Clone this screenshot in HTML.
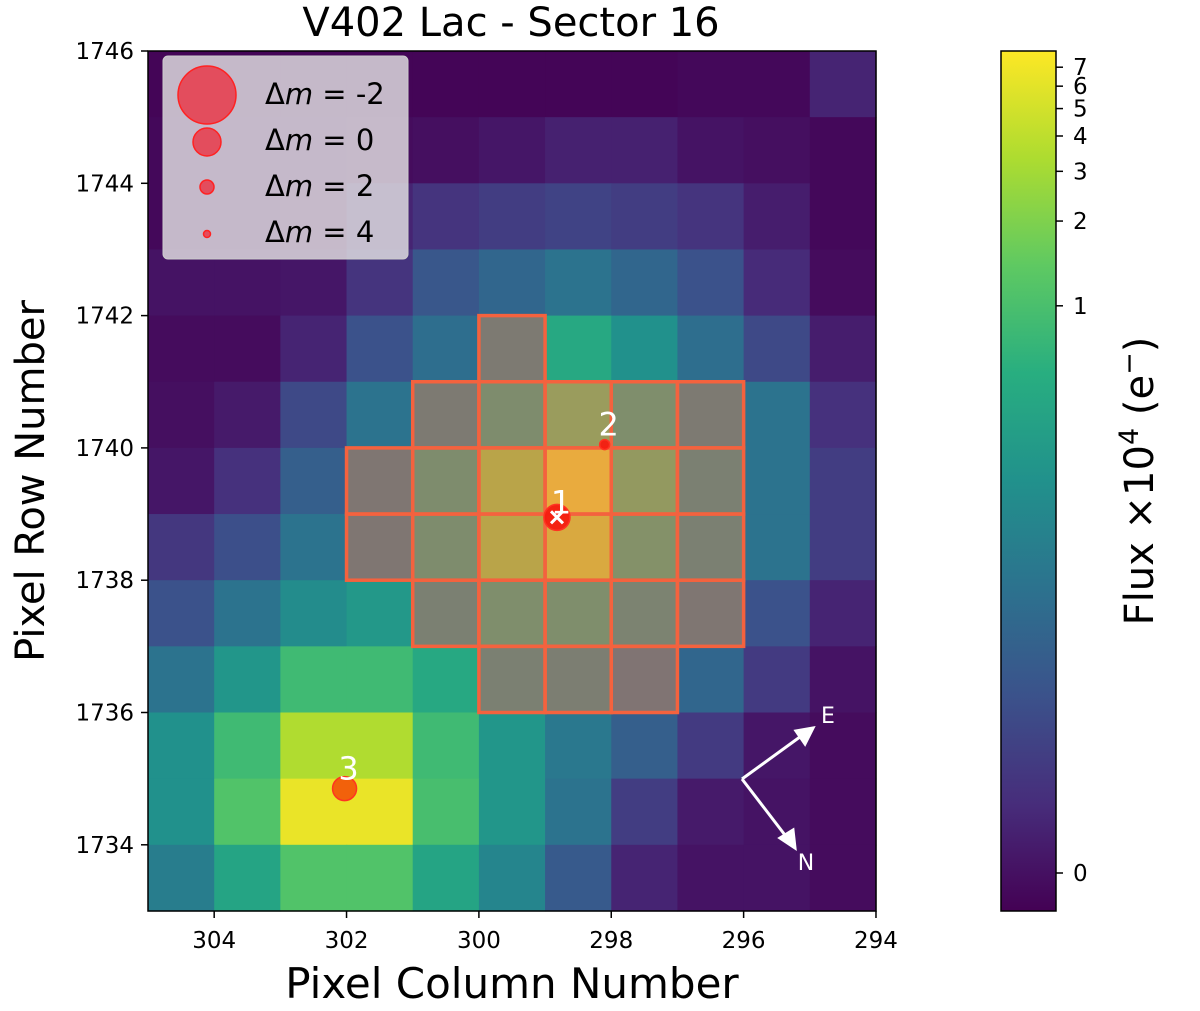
<!DOCTYPE html>
<html><head><meta charset="utf-8"><style>
html,body{margin:0;padding:0;background:#fff;}
svg{display:block;font-family:"DejaVu Sans","Liberation Sans",sans-serif;}
</style></head><body>
<svg id="chart" width="1200" height="1011" viewBox="0 0 1200 1011" xmlns="http://www.w3.org/2000/svg">
<text x="511" y="36" font-size="40" text-anchor="middle">V402 Lac - Sector 16</text>
<g id="cells"></g>
<g id="aperture"></g>
<rect x="148" y="51" width="728" height="860" fill="none" stroke="#000" stroke-width="1.5"/>
<g id="axes"></g>
<text x="512" y="998" font-size="42" text-anchor="middle">Pixel Column Number</text>
<text transform="translate(44,481) rotate(-90)" font-size="40" text-anchor="middle">Pixel Row Number</text>
<g id="stars"></g>
<g stroke="#fff" stroke-width="3" fill="#fff">
<line x1="742" y1="779" x2="804" y2="734"/><polygon points="813,728 796,731 805,744"/>
<line x1="742" y1="779" x2="788" y2="839"/><polygon points="795,848 780,838 793,830" />
<text x="828" y="723" font-size="22" stroke="none" text-anchor="middle">E</text>
<text x="806" y="870" font-size="22" stroke="none" text-anchor="middle">N</text>
</g>
<g>
<rect x="163" y="56" width="245" height="203" rx="5" fill="#e6e6e6" fill-opacity="0.8" stroke="#ccc"/>
<circle cx="207" cy="95" r="29" fill="#e8394a" fill-opacity="0.85" stroke="#f22" stroke-width="1.5"/>
<circle cx="207" cy="142" r="14" fill="#e8394a" fill-opacity="0.85" stroke="#f22" stroke-width="1.5"/>
<circle cx="207" cy="187" r="7" fill="#e8394a" fill-opacity="0.85" stroke="#f22" stroke-width="1.5"/>
<circle cx="207" cy="234" r="3.5" fill="#e8394a" fill-opacity="0.85" stroke="#f22" stroke-width="1.5"/>
<g font-size="29"><text x="265" y="104"><tspan>Δ</tspan><tspan font-style="italic">m</tspan> =  -2</text>
<text x="265" y="150"><tspan>Δ</tspan><tspan font-style="italic">m</tspan> =  0</text>
<text x="265" y="196"><tspan>Δ</tspan><tspan font-style="italic">m</tspan> =  2</text>
<text x="265" y="242"><tspan>Δ</tspan><tspan font-style="italic">m</tspan> =  4</text></g>
</g>
<defs><linearGradient id="vir" x1="0" y1="1" x2="0" y2="0">
<stop offset="0" stop-color="#440154"/><stop offset="0.125" stop-color="#472d7b"/><stop offset="0.25" stop-color="#3b528b"/><stop offset="0.375" stop-color="#2c728e"/><stop offset="0.5" stop-color="#21918c"/><stop offset="0.625" stop-color="#28ae80"/><stop offset="0.75" stop-color="#5ec962"/><stop offset="0.875" stop-color="#addc30"/><stop offset="1" stop-color="#fde725"/></linearGradient></defs>
<rect x="1001" y="51" width="55" height="860" fill="url(#vir)" stroke="#000" stroke-width="1.5"/>
<g id="cbticks"></g>
<text transform="translate(1153,481) rotate(-90)" font-size="40" text-anchor="middle">Flux ×10<tspan font-size="27" dy="-15">4</tspan><tspan dy="15"> (e</tspan><tspan font-size="27" dy="-15">−</tspan><tspan dy="15">)</tspan></text>
</svg>
<script>
const NS="http://www.w3.org/2000/svg";
// data
const colStart=305; // left edge column (x axis reversed)
const rowTop=1746;
const values=[
[0.01,0.01,0.01,0.01,0.01,0.01,0.01,0.01,0.02,0.02,0.1],
[0.02,0.02,0.02,0.03,0.04,0.06,0.09,0.09,0.05,0.04,0.02],
[0.02,0.02,0.03,0.1,0.15,0.18,0.2,0.18,0.15,0.08,0.02],
[0.05,0.05,0.06,0.15,0.27,0.33,0.38,0.33,0.25,0.12,0.03],
[0.03,0.03,0.1,0.25,0.36,0.45,0.6,0.5,0.36,0.22,0.08],
[0.04,0.07,0.22,0.38,0.45,0.6,0.75,0.62,0.45,0.38,0.14],
[0.06,0.14,0.3,0.42,0.6,0.85,1.0,0.72,0.5,0.38,0.18],
[0.16,0.24,0.38,0.42,0.6,0.85,0.95,0.65,0.5,0.38,0.18],
[0.25,0.38,0.48,0.53,0.5,0.62,0.62,0.52,0.42,0.25,0.1],
[0.38,0.52,0.68,0.68,0.6,0.5,0.48,0.4,0.33,0.17,0.05],
[0.5,0.68,0.88,0.88,0.68,0.52,0.4,0.3,0.17,0.06,0.03],
[0.5,0.72,0.97,0.97,0.7,0.52,0.38,0.18,0.07,0.05,0.03],
[0.42,0.58,0.72,0.72,0.58,0.45,0.28,0.1,0.05,0.05,0.03]];
const mask=[[4,5],[5,4],[5,5],[5,6],[5,7],[5,8],[6,3],[6,4],[6,5],[6,6],[6,7],[6,8],[7,3],[7,4],[7,5],[7,6],[7,7],[7,8],[8,4],[8,5],[8,6],[8,7],[8,8],[9,5],[9,6],[9,7]];
const xTicks=[304,302,300,298,296,294];
const yTicks=[1746,1744,1742,1740,1738,1736,1734];
const starCols=[298.82,298.1,302.03];
const starRows=[1738.95,1740.05,1734.85];
const starRadii=[13,5,12];
const starLabels=["1","2","3"];
const cbVals=[0,1,2,3,4,5,6,7];
const cbLabels=["0","1","2","3","4","5","6","7"];
// scales
const X0=148,Y0=51,CW=66.18,CH=66.15;
const xs=c=>X0+(colStart-c)*CW;
const ys=r=>Y0+(rowTop-r)*CH;
const cbY=v=>{const t=0.345*Math.log10((v+0.0101)/0.0101);return 873-t*822;};
const stops=[[68,1,84],[71,45,123],[59,82,139],[44,114,142],[33,145,140],[40,174,128],[94,201,98],[173,220,48],[253,231,37]];
function vir(v){v=Math.max(0,Math.min(1,v));const p=v*8,i=Math.min(7,Math.floor(p)),f=p-i;const a=stops[i],b=stops[i+1];return `rgb(${a.map((x,k)=>Math.round(x+(b[k]-x)*f)).join(',')})`;}
function mk(tag,attrs,parent){const e=document.createElementNS(NS,tag);for(const k in attrs)e.setAttribute(k,attrs[k]);parent.appendChild(e);return e;}
const cells=document.getElementById('cells');
values.forEach((row,i)=>row.forEach((v,j)=>{
 const r=mk('rect',{x:xs(colStart-j),y:ys(rowTop-i),width:CW+0.6,height:CH+0.6,fill:vir(v)},cells);
 
 
}));
const ap=document.getElementById('aperture');
mask.forEach(([i,j])=>{
 const r=mk('rect',{x:xs(colStart-j),y:ys(rowTop-i),width:CW,height:CH,fill:'rgb(213,111,88)','fill-opacity':0.5,stroke:'#f4623e','stroke-width':3.5},ap);
 
 
});
const axes=document.getElementById('axes');
xTicks.forEach(t=>{
 mk('line',{x1:xs(t),x2:xs(t),y1:911,y2:918,stroke:'#000','stroke-width':1.5},axes);
 const tx=mk('text',{x:xs(t),y:948,'font-size':23,'text-anchor':'middle'},axes);tx.textContent=t;
 
 
});
yTicks.forEach(t=>{
 mk('line',{x1:141,x2:148,y1:ys(t),y2:ys(t),stroke:'#000','stroke-width':1.5},axes);
 const tx=mk('text',{x:134,y:ys(t)+8,'font-size':23,'text-anchor':'end'},axes);tx.textContent=t;
 
 
});
const st=document.getElementById('stars');
starCols.forEach((c,k)=>{
 const cx=xs(c),cy=ys(starRows[k]);
 const ci=mk('circle',{cx:cx,cy:cy,r:starRadii[k],fill:k==2?'#f25a0a':'#f51b10','fill-opacity':0.95,stroke:'#f32',"stroke-width":1.5},st);
 
 
 const t=mk('text',{x:cx+4,y:cy-(k==0?4:9),'font-size':32,fill:'#fff','text-anchor':'middle'},st);t.textContent=starLabels[k];
 
 
 if(k==0){mk('path',{d:`M${cx-6} ${cy-6}L${cx+6} ${cy+6}M${cx+6} ${cy-6}L${cx-6} ${cy+6}`,stroke:'#fff','stroke-width':3},st);}
});
const cb=document.getElementById('cbticks');
cbVals.forEach((v,k)=>{
 const y=cbY(v);
 mk('line',{x1:1056,x2:1063,y1:y,y2:y,stroke:'#000','stroke-width':1.5},cb);
 const t=mk('text',{x:1073,y:y+8,'font-size':23},cb);t.textContent=cbLabels[k];
 
 
});
</script>
</body></html>
